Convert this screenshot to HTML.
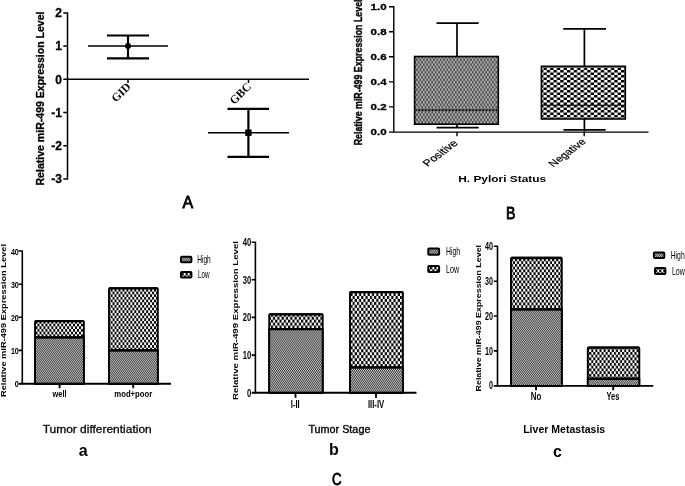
<!DOCTYPE html>
<html><head><meta charset="utf-8"><title>Figure</title>
<style>
html,body{margin:0;padding:0;background:#fff;}
svg{display:block;filter:blur(0.35px);}
text{font-family:"Liberation Sans",sans-serif;fill:#000;}
.ab{font-weight:bold;}
.hv{stroke:#000;stroke-width:0.3px;}
.ser{font-family:"Liberation Serif",serif;font-weight:bold;}
.ln{stroke:#000;fill:none;}
</style></head><body>
<svg width="685" height="486" viewBox="0 0 685 486">
<defs>
<pattern id="coarseB" width="6.75" height="5.0" patternUnits="userSpaceOnUse"><rect width="6.75" height="5.0" fill="#fff"/><rect x="0" y="0" width="3.375" height="2.5" fill="#000"/><rect x="3.375" y="2.5" width="3.375" height="2.5" fill="#000"/></pattern>
<pattern id="fineB" x="414.5" y="56.6" width="3.375" height="5" patternUnits="userSpaceOnUse"><rect width="3.375" height="5" fill="#7c7c7c"/><rect x="0" y="0.1" width="1.6875" height="1.05" fill="#1e1e1e"/><rect x="1.6875" y="0.1" width="1.6875" height="1.05" fill="#e6e6e6"/><rect x="0" y="2.6" width="1.6875" height="1.05" fill="#e6e6e6"/><rect x="1.6875" y="2.6" width="1.6875" height="1.05" fill="#1e1e1e"/></pattern>
<pattern id="coarse_a" width="3.95" height="5.35" patternUnits="userSpaceOnUse"><rect width="3.95" height="5.35" fill="#fff"/><rect x="0" y="0" width="1.975" height="2.675" fill="#000"/><rect x="1.975" y="2.675" width="1.975" height="2.675" fill="#000"/></pattern>
<pattern id="fine_a" width="2" height="2.675" patternUnits="userSpaceOnUse"><rect width="2" height="2.675" fill="#c4c4c4"/><rect x="0" y="0" width="1.0" height="1.3375" fill="#3c3c3c"/><rect x="1.0" y="1.3375" width="1.0" height="1.3375" fill="#3c3c3c"/></pattern>
<pattern id="coarse_b" width="4.3" height="5.92" patternUnits="userSpaceOnUse"><rect width="4.3" height="5.92" fill="#fff"/><rect x="0" y="0" width="2.15" height="2.96" fill="#000"/><rect x="2.15" y="2.96" width="2.15" height="2.96" fill="#000"/></pattern>
<pattern id="fine_b" width="2" height="2.96" patternUnits="userSpaceOnUse"><rect width="2" height="2.96" fill="#c4c4c4"/><rect x="0" y="0" width="1.0" height="1.48" fill="#3c3c3c"/><rect x="1.0" y="1.48" width="1.0" height="1.48" fill="#3c3c3c"/></pattern>
<pattern id="coarse_c" width="4.12" height="5.5" patternUnits="userSpaceOnUse"><rect width="4.12" height="5.5" fill="#fff"/><rect x="0" y="0" width="2.06" height="2.75" fill="#000"/><rect x="2.06" y="2.75" width="2.06" height="2.75" fill="#000"/></pattern>
<pattern id="fine_c" width="2" height="2.75" patternUnits="userSpaceOnUse"><rect width="2" height="2.75" fill="#c4c4c4"/><rect x="0" y="0" width="1.0" height="1.375" fill="#3c3c3c"/><rect x="1.0" y="1.375" width="1.0" height="1.375" fill="#3c3c3c"/></pattern>
</defs>
<rect width="685" height="486" fill="#fff"/>

<!-- ===== Panel A ===== -->
<g id="pA">
<path class="ln" stroke-width="1.5" d="M67.5 12.3V179.6M63.3 13H67.5M63.3 46H67.5M63.3 79.3H67.5M63.3 112.5H67.5M63.3 145.8H67.5M63.3 178.9H67.5M67 79.3H309M128 79V83M248.5 79V83"/>
<g class="ab hv" font-size="12" text-anchor="end">
<text x="62" y="17.3">2</text><text x="62" y="50.3">1</text><text x="62" y="83.6">0</text>
<text x="62" y="116.8">-1</text><text x="62" y="150.1">-2</text><text x="62" y="183.2">-3</text>
</g>
<text class="ab hv" font-size="11" text-anchor="middle" transform="translate(43.5,98.5) rotate(-90)" textLength="174" lengthAdjust="spacingAndGlyphs">Relative miR-499 Expression Level</text>
<path class="ln" stroke-width="1.5" d="M88 46H168M208 132.7H289"/>
<path class="ln" stroke-width="2.2" d="M107 35.5H149M107 58.3H149M128 35.5V58.3M227.5 108.8H269M227.5 156.8H269M248.4 108.8V156.8"/>
<circle cx="128" cy="46" r="3" fill="#000"/>
<rect x="245.2" y="129.5" width="6.4" height="6.4" fill="#000"/>
<text class="ser" font-size="11.6" text-anchor="end" transform="translate(131.5,87.3) rotate(-45)">GID</text>
<text class="ser" font-size="11.6" text-anchor="end" transform="translate(252,87.3) rotate(-45)">GBC</text>
<text font-size="16" text-anchor="middle" x="187.8" y="207.6" stroke="#000" stroke-width="0.8">A</text>
</g>

<!-- ===== Panel B ===== -->
<g id="pB">
<rect x="414.6" y="56.5" width="83.7" height="67.7" fill="url(#fineB)" stroke="#000" stroke-width="1.6"/>
<path fill="none" stroke="#5c5c5c" stroke-width="2.1" d="M414.6 110.1H498.3"/><path class="ln" stroke-width="1.9" stroke-dasharray="1.3 2.075" d="M415.2 110.1H498.3"/>
<rect x="541.4" y="66.3" width="83.9" height="52.7" fill="url(#coarseB)" stroke="#000" stroke-width="1.6"/>
<path class="ln" stroke-width="1" d="M541.4 105.2H625.3"/>
<path class="ln" stroke-width="1.7" d="M457 23.2V56M436.5 23.2H478.7M457 124.2V127.6M436.5 127.6H478.7M584.4 28.8V66M563.3 28.8H606M584.4 119V131.5M563.4 129.8H605.6"/>
<path class="ln" stroke-width="1.4" d="M393.8 6V132.8M389 6.7H393.8M389 31.8H393.8M389 56.8H393.8M389 81.9H393.8M389 106.9H393.8M389 132.1H648.5M457 132V136.2M584.2 132V136.2"/>
<g class="ab hv" font-size="9.3" text-anchor="end">
<text x="386.6" y="10.03" textLength="16" lengthAdjust="spacingAndGlyphs">1.0</text>
<text x="386.6" y="35.13" textLength="16" lengthAdjust="spacingAndGlyphs">0.8</text>
<text x="386.6" y="60.13" textLength="16" lengthAdjust="spacingAndGlyphs">0.6</text>
<text x="386.6" y="85.23" textLength="16" lengthAdjust="spacingAndGlyphs">0.4</text>
<text x="386.6" y="110.23" textLength="16" lengthAdjust="spacingAndGlyphs">0.2</text>
<text x="386.6" y="135.33" textLength="16" lengthAdjust="spacingAndGlyphs">0.0</text>
</g>
<text class="ab hv" font-size="8.85" transform="translate(362,145.3) scale(1.25,1) rotate(-90)">Relative miR-499 Expression Level</text>
<text font-size="9.4" text-anchor="end" transform="translate(458.7,143.8) scale(1.33,1) rotate(-45)" stroke="#000" stroke-width="0.2">Positive</text>
<text font-size="9.0" text-anchor="end" transform="translate(586.7,142.3) scale(1.33,1) rotate(-45)" stroke="#000" stroke-width="0.2">Negative</text>
<text class="ab" font-size="8.6" x="458.2" y="181.9" textLength="88" lengthAdjust="spacingAndGlyphs">H. Pylori Status</text>
<text font-size="16" text-anchor="middle" x="510.6" y="219.1" stroke="#000" stroke-width="0.8" textLength="9.4" lengthAdjust="spacingAndGlyphs">B</text>
</g>

<!-- ===== Panel a ===== -->
<g id="pa">
<rect x="35.05" y="320.9" width="48.8" height="62.9" rx="0.9" fill="url(#coarse_a)" stroke="#000" stroke-width="1.9"/>
<rect x="35.05" y="337.4" width="48.8" height="46.4" fill="url(#fine_a)" stroke="#000" stroke-width="1.9"/>
<path class="ln" stroke-width="2.4" d="M35.05 337.4H83.8M35.349999999999994 321.15H83.5"/>
<rect x="109.0" y="288.1" width="48.8" height="95.7" rx="0.9" fill="url(#coarse_a)" stroke="#000" stroke-width="1.9"/>
<rect x="109.0" y="350.4" width="48.8" height="33.4" fill="url(#fine_a)" stroke="#000" stroke-width="1.9"/>
<path class="ln" stroke-width="2.4" d="M109.0 350.4H157.8M109.3 288.35H157.5"/>
<path class="ln" stroke-width="1.6" d="M22.3 250.2V384.6M18.5 251H22.2M18.5 284.2H22.2M18.5 317.3H22.2M18.5 350.4H22.2"/><path class="ln" stroke-width="1.9" d="M18.5 383.8H171M59.6 383.5V388.3M133.2 383.5V388.3"/>
<g class="ab" font-size="9.8" text-anchor="end" fill="#111">
<text x="18.8" y="254.51" textLength="7.9" lengthAdjust="spacingAndGlyphs">40</text>
<text x="18.8" y="287.71" textLength="7.9" lengthAdjust="spacingAndGlyphs">30</text>
<text x="18.8" y="320.71" textLength="7.9" lengthAdjust="spacingAndGlyphs">20</text>
<text x="18.8" y="353.71" textLength="7.9" lengthAdjust="spacingAndGlyphs">10</text>
<text x="18.8" y="387.2" textLength="3.95" lengthAdjust="spacingAndGlyphs">0</text>
</g>
<text class="ab" font-size="7.3" text-anchor="middle" transform="translate(6.2,320.5) rotate(-90)" textLength="153" lengthAdjust="spacingAndGlyphs">Relative miR-499 Expression Level</text>
<text class="ab" font-size="9.8" text-anchor="middle" x="59.6" y="397.3" textLength="14" lengthAdjust="spacingAndGlyphs" fill="#222">well</text>
<text class="ab" font-size="9.8" text-anchor="middle" x="133.3" y="397.3" textLength="38" lengthAdjust="spacingAndGlyphs" fill="#222">mod+poor</text>
<rect x="181" y="256.7" width="10.4" height="5.5" fill="url(#fine_a)" stroke="#000" stroke-width="2" rx="0.8"/>
<rect x="181" y="272" width="10.4" height="5.5" fill="url(#coarse_a)" stroke="#000" stroke-width="2" rx="0.8"/>
<text font-size="10.2" x="197.2" y="262.9" fill="#2a2a2a" textLength="13.6" lengthAdjust="spacingAndGlyphs">High</text>
<text font-size="10.2" x="198" y="278.3" fill="#2a2a2a" textLength="11.6" lengthAdjust="spacingAndGlyphs">Low</text>
<text font-size="10.9" text-anchor="middle" x="97.2" y="433.3" fill="#111" stroke="#111" stroke-width="0.3" textLength="109" lengthAdjust="spacingAndGlyphs">Tumor differentiation</text>
<text class="ab" font-size="16" text-anchor="middle" x="83.3" y="455.5">a</text>
</g>

<!-- ===== Panel b ===== -->
<g id="pb">
<rect x="269.2" y="314.1" width="53.5" height="78.7" rx="0.9" fill="url(#coarse_b)" stroke="#000" stroke-width="1.9"/>
<rect x="269.2" y="329.1" width="53.5" height="63.7" fill="url(#fine_b)" stroke="#000" stroke-width="1.9"/>
<path class="ln" stroke-width="2.4" d="M269.2 329.1H322.7M269.5 314.35H322.4"/>
<rect x="350.0" y="291.9" width="52.9" height="100.9" rx="0.9" fill="url(#coarse_b)" stroke="#000" stroke-width="1.9"/>
<rect x="350.0" y="367.4" width="52.9" height="25.4" fill="url(#fine_b)" stroke="#000" stroke-width="1.9"/>
<path class="ln" stroke-width="2.4" d="M350.0 367.4H402.9M350.3 292.15H402.6"/>
<path class="ln" stroke-width="1.6" d="M255.4 241.4V393.6M251.7 242.2H255.4M251.7 279.8H255.4M251.7 317.4H255.4M251.7 355.1H255.4"/><path class="ln" stroke-width="1.9" d="M251.7 392.8H416.5M295.5 392.5V397.7M376 392.5V397.7"/>
<g class="ab" font-size="10.7" text-anchor="end" fill="#111">
<text x="251.3" y="246.03" textLength="8.5" lengthAdjust="spacingAndGlyphs">40</text>
<text x="251.3" y="283.63" textLength="8.5" lengthAdjust="spacingAndGlyphs">30</text>
<text x="251.3" y="321.23" textLength="8.5" lengthAdjust="spacingAndGlyphs">20</text>
<text x="251.3" y="358.83" textLength="8.5" lengthAdjust="spacingAndGlyphs">10</text>
<text x="251.3" y="396.53" textLength="4.25" lengthAdjust="spacingAndGlyphs">0</text>
</g>
<text class="ab" font-size="7.8" text-anchor="middle" transform="translate(237.5,320.5) rotate(-90)" textLength="159" lengthAdjust="spacingAndGlyphs">Relative miR-499 Expression Level</text>
<text class="ab" font-size="10.5" text-anchor="middle" x="295.3" y="408" textLength="8.9" lengthAdjust="spacingAndGlyphs" fill="#333">I-II</text>
<text class="ab" font-size="10.5" text-anchor="middle" x="376.1" y="408" textLength="16.3" lengthAdjust="spacingAndGlyphs" fill="#333">III-IV</text>
<rect x="428.3" y="248.4" width="10.8" height="6.3" fill="url(#fine_b)" stroke="#000" stroke-width="2" rx="0.8"/>
<rect x="428.3" y="265.9" width="10.8" height="6.1" fill="url(#coarse_b)" stroke="#000" stroke-width="2" rx="0.8"/>
<text font-size="11" x="446" y="255" fill="#2a2a2a" textLength="14.1" lengthAdjust="spacingAndGlyphs">High</text>
<text font-size="11" x="446" y="272.6" fill="#2a2a2a" textLength="13.1" lengthAdjust="spacingAndGlyphs">Low</text>
<text font-size="10.8" text-anchor="middle" x="339.4" y="432.5" fill="#111" stroke="#111" stroke-width="0.4" textLength="62" lengthAdjust="spacingAndGlyphs">Tumor Stage</text>
<text class="ab" font-size="16" text-anchor="middle" x="333.8" y="455.4">b</text>
<text font-size="16" text-anchor="middle" x="336.9" y="484.5" stroke="#000" stroke-width="0.8" textLength="9.6" lengthAdjust="spacingAndGlyphs">C</text>
</g>

<!-- ===== Panel c ===== -->
<g id="pc">
<rect x="511.0" y="257.8" width="50.8" height="128.1" rx="0.9" fill="url(#coarse_c)" stroke="#000" stroke-width="1.9"/>
<rect x="511.0" y="309.4" width="50.8" height="76.5" fill="url(#fine_c)" stroke="#000" stroke-width="1.9"/>
<path class="ln" stroke-width="2.4" d="M511.0 309.4H561.8M511.3 258.05H561.5"/>
<rect x="587.8" y="347.4" width="51.5" height="38.5" rx="0.9" fill="url(#coarse_c)" stroke="#000" stroke-width="1.9"/>
<rect x="587.8" y="378.7" width="51.5" height="7.2" fill="url(#fine_c)" stroke="#000" stroke-width="1.9"/>
<path class="ln" stroke-width="2.4" d="M587.8 378.7H639.3M588.0999999999999 347.65H639.0"/>
<path class="ln" stroke-width="1.6" d="M497.5 245.5V386.7M493.8 246.3H497.5M493.8 281.2H497.5M493.8 316H497.5M493.8 350.9H497.5"/><path class="ln" stroke-width="1.9" d="M493.8 385.9H653.3M536 385.5V390.3M613.2 385.5V390.3"/>
<g class="ab" font-size="10.2" text-anchor="end" fill="#111">
<text x="492.9" y="249.95" textLength="8.0" lengthAdjust="spacingAndGlyphs">40</text>
<text x="492.9" y="284.85" textLength="8.0" lengthAdjust="spacingAndGlyphs">30</text>
<text x="492.9" y="319.65" textLength="8.0" lengthAdjust="spacingAndGlyphs">20</text>
<text x="492.9" y="354.55" textLength="8.0" lengthAdjust="spacingAndGlyphs">10</text>
<text x="492.9" y="389.45" textLength="4.0" lengthAdjust="spacingAndGlyphs">0</text>
</g>
<text class="ab" font-size="7.9" text-anchor="middle" transform="translate(480.5,318.2) rotate(-90)" textLength="146.5" lengthAdjust="spacingAndGlyphs">Relative miR-499 Expression Level</text>
<text class="ab" font-size="10" text-anchor="middle" x="536" y="399.6" textLength="10.5" lengthAdjust="spacingAndGlyphs" fill="#222">No</text>
<text class="ab" font-size="10" text-anchor="middle" x="612.9" y="399.6" textLength="13" lengthAdjust="spacingAndGlyphs" fill="#222">Yes</text>
<rect x="653.9" y="252.5" width="10.4" height="5.6" fill="url(#fine_c)" stroke="#000" stroke-width="2" rx="0.8"/>
<rect x="655" y="268.1" width="10.4" height="6" fill="url(#coarse_c)" stroke="#000" stroke-width="2" rx="0.8"/>
<text font-size="10.5" x="670.7" y="259" fill="#2a2a2a" textLength="14" lengthAdjust="spacingAndGlyphs">High</text>
<text font-size="10.5" x="671.9" y="274.8" fill="#2a2a2a" textLength="13" lengthAdjust="spacingAndGlyphs">Low</text>
<text class="ab" font-size="10.8" text-anchor="middle" x="564.2" y="433.2" fill="#111" textLength="82" lengthAdjust="spacingAndGlyphs">Liver Metastasis</text>
<text class="ab" font-size="16" text-anchor="middle" x="557.4" y="456.5">c</text>
</g>
</svg>
</body></html>
